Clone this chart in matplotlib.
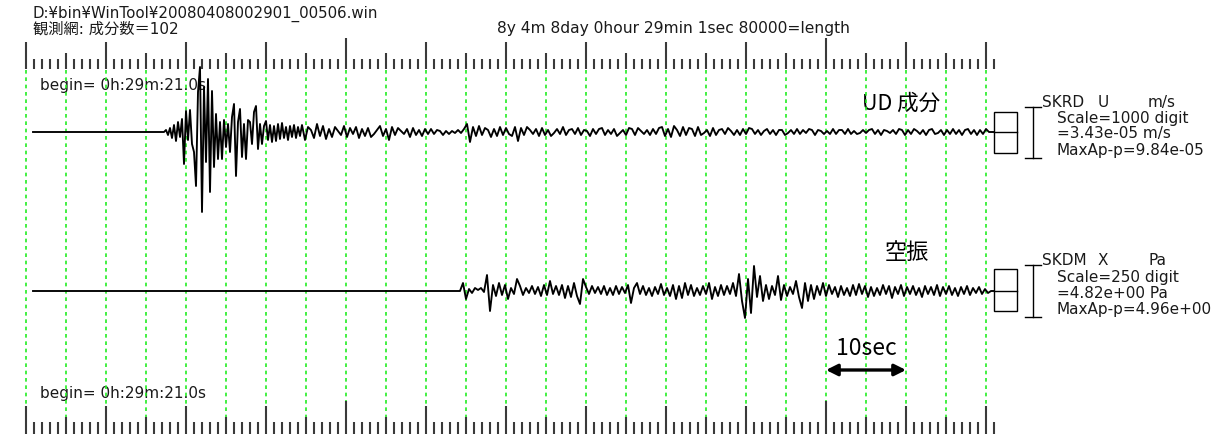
import numpy as np
import matplotlib
matplotlib.use("Agg")
import matplotlib.pyplot as plt
from matplotlib.patches import Rectangle

# ------------------------------------------------------------------ data
file_label = "D:¥bin¥WinTool¥20080408002901_00506.win"
net_label = "観測網: 成分数＝102"
time_label = "8y 4m 8day 0hour 29min 1sec 80000=length"
begin_label = "begin= 0h:29m:21.0s"
ud_title = "UD 成分"
air_title = "空振"
bar_label = "10sec"

ruler_seconds = 121          # ruler runs 0..121 s
grid_step = 5                # green grid every 5 s
major_step = 10
minute_step = 60
minute_offset = 40
scale_bar = (100, 110)       # 10 sec bar

trace_start = 0.875
trace_end = 121.0

# UD component (relative amplitude)
ud_burst_t0 = 17.25
ud_burst_dt = 0.25
ud_burst = [0, 2, -3, 4, -6, 7, -9, 10, -5, 13,
            -32, 21, -8, 22, -12, -20, -54, 40, 65, -80,
            45, -30, 53, -60, 41, -35, 18, -27, 10, -27,
            12, -15, 8, -20, 15, 28, -44, 10, 23, -25,
            8, -27, 12, 10, -12, 20, 26, -17, 8, -12,
            6, 11, -8, 7, -10, 6, -9, 8, -7, 9,
            -6, 5, -8, 6, -5, 7, -6, 5, -4]
ud_coda_t0 = 34.5
ud_coda_dt = 0.375
ud_coda = [7, -8, 5, 2, -6, 8, -4, 6, -7, 3,
           -5, 5, 1, -3, 6, -5, 4, -2, 5, -6,
           3, -4, 4, -5, -2, 2, 6, -4, 3, -8,
           5, -3, 4, 1, -2, 3, -5, 4, -3, 2,
           -4, 3, -2, 3, -2, 2, 1, -3, 1, -2,
           1, -1, 2, -1, 3, 8, -10, 5, -4, 6,
           -3, 4, 2, -5, 3, -4, 5, -3, 4, -2,
           -4, 5, -9, 4, -3, 5, 2, -2, 3, -4,
           4, -3, 2, -4, -1, 3, -2, 5, -3, 2,
           3, -2, 4, -3, 2, 1, -4, 3, -2, 3,
           4, -3, 2, -2, 3, -4, -1, 2, -3, 4,
           3, -3, 4, 1, -2, 2, -3, 3, -2, 4,
           5, -4, 3, -5, 6, 2, -4, 5, -3, 4,
           3, -4, 5, -3, -1, 2, -4, 4, -3, 2,
           3, -2, 4, 1, -3, 2, -3, 3, -2, 4,
           3, -2, 2, -3, 1, 3, -2, 2, -3, 2,
           2, -3, -1, 2, -2, 3, -2, 2, -1, 3,
           2, -3, 2, 1, -2, 1, -2, 3, -2, 2,
           2, -2, 3, -2, 1, -2, -1, 2, -1, 2,
           3, -2, 2, -3, 2, 1, -1, 2, -2, 3,
           2, -3, 2, -2, 3, 1, -2, 2, -3, 2,
           3, -2, -1, 2, -3, 2, -2, 3, -2, 2,
           -3, 2, 3, -2, 2, -3, 2, -2, 3, 0]

# infrasound (relative amplitude)
air_t0 = 54.25
air_dt = 0.375
air_wave = [0, 8, -8, 2, -2, 3, 1, 3, -1, 16,
            -20, 6, -5, 8, -4, 6, -8, 3, -3, 12,
            5, -4, 3, -2, 5, -3, 4, -5, 6, -4,
            10, -3, 5, -4, 6, -7, 5, -6, 8, -5,
            -13, 12, 4, -3, 5, -2, 4, -3, 5, -4,
            3, -4, 5, -3, 4, -2, 6, -12, 3, 8,
            -3, 5, -4, 3, -5, 4, -3, 7, -4, 3,
            -5, 6, -8, 5, -7, 8, -4, 6, -5, 3,
            -4, 5, -3, 8, -8, 4, -5, 6, -4, 5,
            -3, 8, -5, 17, -10, -27, 12, -22, 25, -6,
            15, -10, 6, -8, 5, -4, 15, -9, 6, -5,
            4, -3, 10, -6, -17, 8, -10, 6, -8, 5,
            -4, 8, -5, 6, -3, 4, -6, 5, -4, 3,
            -5, 6, -4, 7, -3, 5, -6, 4, -5, 3,
            -4, 6, -3, 5, -7, 4, -3, 6, -5, 4,
            -3, 5, -4, 3, -6, 5, -3, 4, -4, 6,
            -5, 4, -3, 5, -4, 3, -5, 4, -3, 5,
            -4, 3, -2, 4, -3, 2, -2, 0]

ud_header = ("SKRD", "U", "m/s")
ud_info = ["Scale=1000 digit", "=3.43e-05 m/s", "MaxAp-p=9.84e-05"]
air_header = ("SKDM", "X", "Pa")
air_info = ["Scale=250 digit", "=4.82e+00 Pa", "MaxAp-p=4.96e+00"]

# ------------------------------------------------------------------ layout
W, H = 1218, 435
PX0, PXS = 26.0, 8.0            # pixel of t=0, pixels per second
XLIM = (-PX0 / PXS, (W - PX0) / PXS)
UD_BASE, AIR_BASE = 133, 292

fig = plt.figure(figsize=(W / 100, H / 100), dpi=100)
fig.patch.set_facecolor("white")


def full_axes(ylim, xlim=XLIM):
    a = fig.add_axes([0, 0, 1, 1])
    a.set_xlim(*xlim)
    a.set_ylim(*ylim)
    a.axis("off")
    a.patch.set_alpha(0)
    return a


lay = full_axes((H, 0), xlim=(0, W))        # pixel layout axes
ax = full_axes((H, 0))                      # time (s) vs pixel rows
ax_ud = full_axes((-(H - UD_BASE), UD_BASE))
ax_air = full_axes((-(H - AIR_BASE), AIR_BASE))

ASCII = ["DejaVu Sans", "Noto Sans CJK JP"]
CJK = ["Noto Sans CJK JP", "DejaVu Sans"]
TXT = "#1a1a1a"

# green grid
grid_t = np.arange(0, ruler_seconds, grid_step)
ax.vlines(grid_t, 71, 418, colors="#22ee22", linewidth=1.2,
          linestyles=(0, (2.2, 2.2)), zorder=1)

# rulers
ticks = np.arange(0, ruler_seconds + 1)
kind = np.where((ticks - minute_offset) % minute_step == 0, 3,
                np.where(ticks % major_step == 0, 2,
                         np.where(ticks % grid_step == 0, 1, 0)))
top_start = np.array([60, 54, 43, 39])[kind]
bot_start = np.array([423, 418, 407, 402])[kind]
ax.vlines(ticks, top_start, 70, colors="#3a3a3a", linewidth=1.5, zorder=3)
ax.vlines(ticks, bot_start, 435, colors="#3a3a3a", linewidth=1.5, zorder=3)

# header texts
lay.text(33, 17.5, file_label, fontsize=10.8, family=ASCII, color=TXT)
lay.text(33, 34, net_label, fontsize=11, family=ASCII, color=TXT)
lay.text(497, 33, time_label, fontsize=11.2, family=ASCII, color=TXT)
lay.text(40, 90, begin_label, fontsize=11, family=ASCII, color=TXT, zorder=2)
lay.text(40, 398, begin_label, fontsize=11, family=ASCII, color=TXT, zorder=2)

# traces
ud_t = np.concatenate([[trace_start],
                       ud_burst_t0 + ud_burst_dt * np.arange(len(ud_burst)),
                       ud_coda_t0 + ud_coda_dt * np.arange(len(ud_coda)),
                       [trace_end]])
ud_v = np.concatenate([[0], ud_burst, ud_coda, [0]])
ax_ud.plot(ud_t, ud_v, color="black", linewidth=1.35, zorder=4)

air_t = np.concatenate([[trace_start],
                        air_t0 + air_dt * np.arange(len(air_wave)),
                        [trace_end]])
air_v = np.concatenate([[0], air_wave, [0]])
ax_air.plot(air_t, air_v, color="black", linewidth=1.35, zorder=4)

# titles
lay.text(862, 110, ud_title, fontsize=15.5, family=CJK, color="black")
lay.text(885, 259, air_title, fontsize=16, family=CJK, color="black")

# 10 sec bar
ax.text(scale_bar[0] + 1.3, 355, bar_label, fontsize=16.5, family=CJK,
        color="black")
ax.annotate("", xy=(scale_bar[1], 371), xytext=(scale_bar[0], 371),
            arrowprops=dict(arrowstyle="<|-|>", color="black", lw=2.4,
                            mutation_scale=17, shrinkA=0, shrinkB=0))


# channel boxes / info
def channel(base, top, bot, box_top, box_bot, header, info, info_y):
    lay.add_patch(Rectangle((994, box_top), 23, box_bot - box_top,
                            fill=False, edgecolor="black", linewidth=1.0))
    lay.plot([994, 1017], [base, base], color="black", linewidth=1.0)
    lay.plot([1033, 1033], [top, bot], color="black", linewidth=1.0)
    lay.plot([1025, 1041], [top, top], color="black", linewidth=1.0)
    lay.plot([1025, 1041], [bot, bot], color="black", linewidth=1.0)
    hx = [1042, 1098, 1148]
    for x, s in zip(hx, header):
        lay.text(x, top - 1, s, fontsize=11, family=ASCII, color=TXT)
    for y, s in zip(info_y, info):
        lay.text(1057, y, s, fontsize=11, family=ASCII, color=TXT)


channel(UD_BASE, 108, 159, 113, 154, ud_header, ud_info, [122.5, 138, 155])
channel(AIR_BASE, 266, 318, 270, 312, air_header, air_info, [282, 298, 314])

fig.savefig("out.png", dpi=100, facecolor="white")
